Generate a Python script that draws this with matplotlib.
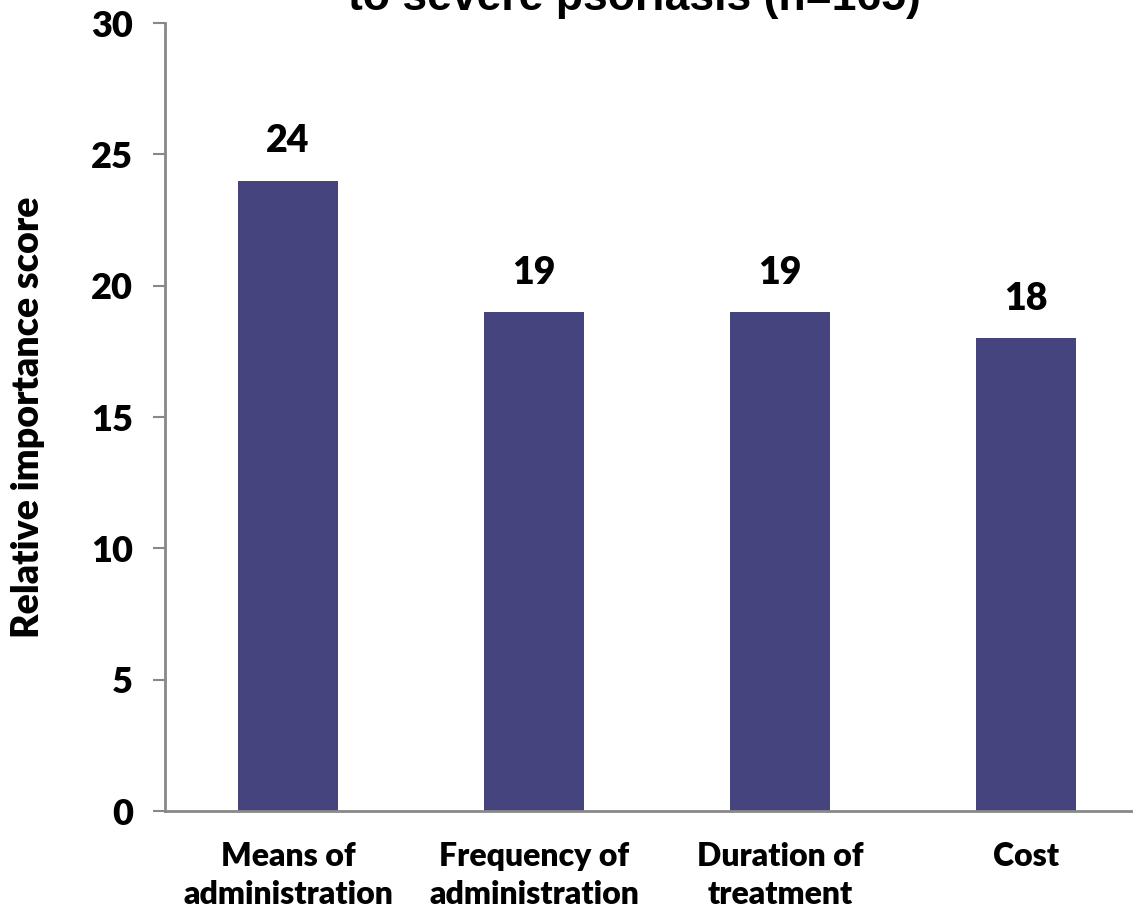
import matplotlib.pyplot as plt

# attribute importance scores
categories = ["Means of\nadministration", "Frequency of\nadministration",
              "Duration of\ntreatment", "Cost"]
scores = [24, 19, 19, 18]
yticks = [0, 5, 10, 15, 20, 25, 30]

plt.rcParams['font.family'] = ['Lato', 'DejaVu Sans']
plt.rcParams['font.weight'] = 'bold'

fig = plt.figure(figsize=(11.33, 9.13), dpi=100)
ax = fig.add_axes([0.1456, 0.1117, 0.8544, 0.8631])

x = list(range(len(categories)))
bars = ax.bar(x, scores, width=0.407, color='#46447f')

for b, v in zip(bars, scores):
    ax.text(b.get_x() + b.get_width() / 2, v + 0.85, str(v),
            ha='center', va='bottom', fontsize=27, fontweight='heavy')

ax.set_xlim(-0.5, 3.435)
ax.set_ylim(0, 30)
ax.set_yticks(yticks)
ax.set_yticklabels([str(t) for t in yticks], fontsize=26, fontweight='heavy')
ax.set_xticks(x)
ax.set_xticklabels(categories, fontsize=23, fontweight='heavy', linespacing=1.4)
ax.tick_params(axis='x', length=0, pad=22)
ax.tick_params(axis='y', direction='out', length=9, width=1.5, color='#888888', pad=14)

for s in ['top', 'right']:
    ax.spines[s].set_visible(False)
for s in ['left', 'bottom']:
    ax.spines[s].set_color('#888888')
    ax.spines[s].set_linewidth(2)

ax.set_ylabel("Relative importance score", fontsize=27, fontweight='heavy')
ax.yaxis.set_label_coords(-0.124, 0.5)

# second title line, partly above the canvas
fig.text(0.56, 0.989, "to severe psoriasis (n=165)", ha='center', va='baseline',
         fontsize=32, fontweight='bold', family=['Liberation Sans', 'DejaVu Sans'])

fig.savefig("out.png", dpi=100)
